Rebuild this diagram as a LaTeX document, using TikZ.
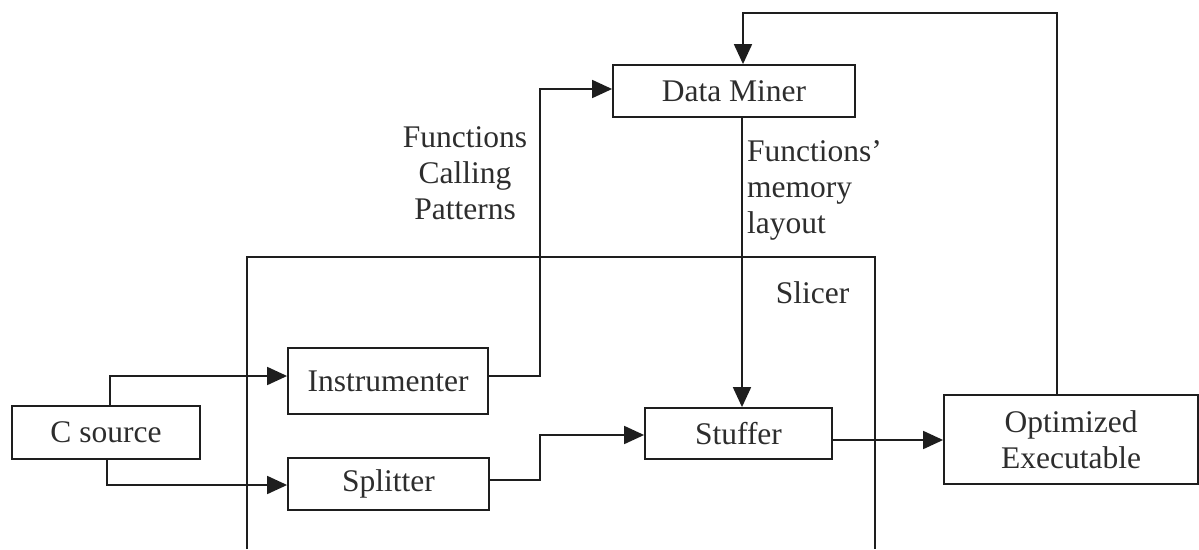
\documentclass[tikz,border=0pt]{standalone}
\usepackage{fontspec}
\setmainfont{Liberation Serif}
\usetikzlibrary{arrows.meta}
\definecolor{lc}{RGB}{30,30,30}
\definecolor{tc}{RGB}{45,45,45}
\tikzset{
  box/.style={draw=lc, line width=1.8pt, inner sep=0pt, text=tc, align=center,
    font=\fontsize{31.5}{36}\selectfont},
  lbl/.style={inner sep=0pt, text=tc, font=\fontsize{31.5}{36}\selectfont},
  conn/.style={draw=lc, line width=1.8pt},
  arr/.style={conn, -{Triangle[length=20pt,width=18pt]}},
}
\begin{document}
\begin{tikzpicture}[x=1pt,y=-1pt]
\useasboundingbox (0,0) rectangle (1199,549);
% Slicer frame (open at bottom)
\draw[conn] (247,549) -- (247,257) -- (875,257) -- (875,549);
\node[lbl, anchor=base] (slicer) at (812.5,303) {Slicer};
% boxes
\node[box, minimum width=188pt, minimum height=53pt] (csrc) at (106,432.5) {C source};
\node[box, minimum width=200pt, minimum height=66pt] (instr) at (388,381) {Instrumenter};
\node[box, minimum width=201pt, minimum height=52pt] (split) at (388.5,484) {Splitter};
\node[box, minimum width=242pt, minimum height=52pt] (dm) at (734,91) {Data Miner};
\node[box, minimum width=187pt, minimum height=51pt] (stuff) at (738.5,433.5) {Stuffer};
\node[box, minimum width=254pt, minimum height=89pt] (opt) at (1071,439.5) {Optimized\\Executable};
% labels (base anchor = last line's baseline)
\node[lbl, anchor=base, align=center] (fcp) at (465,219) {Functions\\Calling\\Patterns};
\node[lbl, anchor=base west, align=left] (fml) at (747,233) {Functions'\\memory\\layout};
% helper coordinates
\coordinate (c1) at (110,376);
\coordinate (c2) at (107,485);
\coordinate (c3) at (540,89);
\coordinate (c4) at (540,435);
\coordinate (c5) at (742,0);
\coordinate (c6) at (0,440);
\coordinate (c7) at (1057,13);
\coordinate (c8) at (743,13);
\coordinate (c9) at (0,480);
% connectors
\draw[arr] (csrc.north -| c1) |- (instr.west |- c1);
\draw[arr] (csrc.south -| c2) |- (split.west |- c2);
\draw[arr] (instr.east |- c1) -| (c3) -- (dm.west |- c3);
\draw[arr] (split.east |- c9) -| (c4) -- (stuff.west |- c4);
\draw[arr] (dm.south -| c5) -- (stuff.north -| c5);
\draw[arr] (stuff.east |- c6) -- (opt.west |- c6);
\draw[arr] (opt.north -| c7) -- (c7) -- (c8) -- (dm.north -| c8);
\end{tikzpicture}
\end{document}
